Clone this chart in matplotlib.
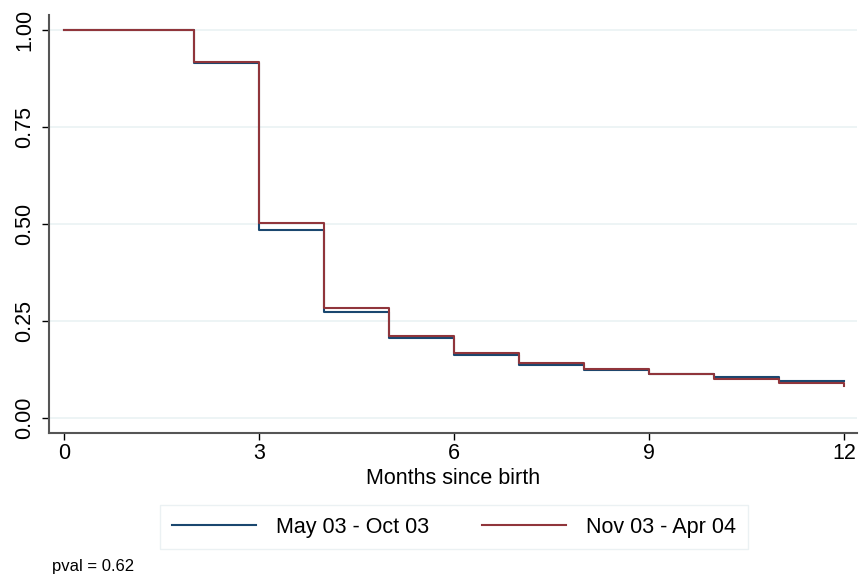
import matplotlib
matplotlib.use("Agg")
import matplotlib.pyplot as plt
from matplotlib.lines import Line2D

# step times (months) and survival values
months = [0, 2, 3, 4, 5, 6, 7, 8, 9, 10, 11, 12]
surv_may = [1.0, 0.914, 0.484, 0.272, 0.205, 0.163, 0.137, 0.123, 0.114, 0.105, 0.095, 0.095]
surv_nov = [1.0, 0.918, 0.503, 0.283, 0.211, 0.167, 0.142, 0.126, 0.114, 0.100, 0.091, 0.081]
labels = ["May 03 - Oct 03", "Nov 03 - Apr 04"]
xticks = [0, 3, 6, 9, 12]
yticks = [0.0, 0.25, 0.5, 0.75, 1.0]
ytick_labels = ["0.00", "0.25", "0.50", "0.75", "1.00"]

plt.rcParams['font.family'] = ['Liberation Sans', 'DejaVu Sans']
navy = '#1a476f'
maroon = '#90353b'

fig = plt.figure(figsize=(8.59, 5.81), dpi=100)
ax = fig.add_axes([49/859, 1-433/581, 808/859, 418/581])

# grid lines first so steps sit on top
for yv in yticks:
    ax.axhline(yv, color='#eaf2f3', lw=1.2, zorder=0)

ax.step(months, surv_may, where='post', color=navy, lw=1.5, zorder=2)
ax.step(months, surv_nov, where='post', color=maroon, lw=1.5, zorder=3)

ax.set_xlim(-0.23, 12.2)
ax.set_ylim(-0.039, 1.039)
ax.set_xticks(xticks)
ax.set_yticks(yticks)
ax.set_yticklabels(ytick_labels, rotation=90, va='center')
ax.tick_params(axis='both', labelsize=15.5, length=5, width=1, direction='out', colors='black')
ax.tick_params(axis='x', pad=2)
ax.tick_params(axis='y', pad=5)
for s in ['top', 'right']:
    ax.spines[s].set_visible(False)
for s in ['left', 'bottom']:
    ax.spines[s].set_color('#555555')
    ax.spines[s].set_linewidth(1.5)

ax.set_xlabel("Months since birth", fontsize=15.5, labelpad=3)

handles = [Line2D([0], [0], color=navy, lw=1.5), Line2D([0], [0], color=maroon, lw=1.5)]
leg = fig.legend(handles, labels, loc='center', bbox_to_anchor=(454/859, 1-527/581),
                 ncol=2, fontsize=15.5, frameon=True, fancybox=False,
                 handlelength=3.9, handletextpad=0.9, columnspacing=2.5,
                 borderpad=0.55, edgecolor='#e6eef0')
leg.get_frame().set_linewidth(1.0)

fig.text(52/859, 1-566/581, "pval = 0.62", fontsize=12, va='center', ha='left')

fig.savefig("out.png", dpi=100)
